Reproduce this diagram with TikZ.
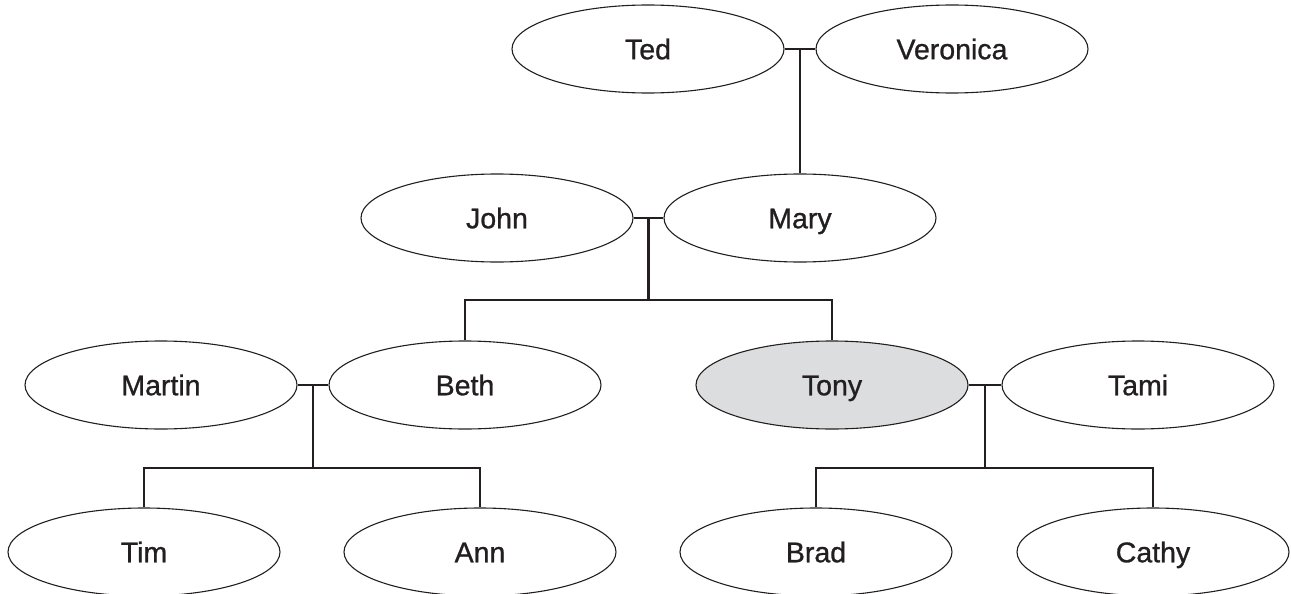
\documentclass[tikz,border=0pt]{standalone}
\usepackage{fontspec}
\setmainfont{Liberation Sans}
\newfontfamily\labelfont[FakeBold=0.9]{Liberation Sans}
\usetikzlibrary{shapes.geometric,calc}
\definecolor{ink}{HTML}{231F20}
\definecolor{hilite}{HTML}{DCDDDF}
\begin{document}
\begin{tikzpicture}[x=1pt,y=-1pt,
  person/.style={ellipse,draw=ink,line width=1.1pt,minimum width=272pt,minimum height=88pt,inner sep=0pt,
    font=\labelfont\fontsize{28.5}{30}\selectfont,text=ink,fill=white,
    text height=20.5pt,text depth=0pt},
  link/.style={draw=ink,line width=2.6pt}]
\useasboundingbox (0,0) rectangle (1291,594);
% level 1
\node[person] (ted) at (648,49) {Ted};
\node[person] (veronica) at (952,49) {Veronica};
% level 2
\node[person] (john) at (497,218) {John};
\node[person] (mary) at (800,218) {Mary};
% level 3
\node[person] (martin) at (161,385) {Martin};
\node[person] (beth) at (465,385) {Beth};
\node[person,fill=hilite] (tony) at (832,385) {Tony};
\node[person] (tami) at (1138,385) {Tami};
% level 4
\node[person] (tim) at (144,552) {Tim};
\node[person] (ann) at (480,552) {Ann};
\node[person] (brad) at (816,552) {Brad};
\node[person] (cathy) at (1153,552) {Cathy};
% couple junctions
\coordinate (j1) at ($(ted.east)!0.5!(veronica.west)$);
\coordinate (j2) at ($(john.east)!0.5!(mary.west)$);
\coordinate (j3) at ($(martin.east)!0.5!(beth.west)$);
\coordinate (j4) at ($(tony.east)!0.5!(tami.west)$);
\coordinate (b2) at ($(j2)+(0,82)$);
\coordinate (b3) at ($(j3)+(0,83)$);
\coordinate (b4) at ($(j4)+(0,83)$);
% connectors
\draw[link] (ted.east) -- (veronica.west);
\draw[link] (j1) -- (j1 |- mary.north);
\draw[link] (john.east) -- (mary.west);
\draw[link] (j2) -- (b2);
\draw[link] (beth.north) |- (b2) -| (tony.north);
\draw[link] (martin.east) -- (beth.west);
\draw[link] (j3) -- (b3);
\draw[link] (tim.north) |- (b3) -| (ann.north);
\draw[link] (tony.east) -- (tami.west);
\draw[link] (j4) -- (b4);
\draw[link] (brad.north) |- (b4) -| (cathy.north);
\end{tikzpicture}
\end{document}
